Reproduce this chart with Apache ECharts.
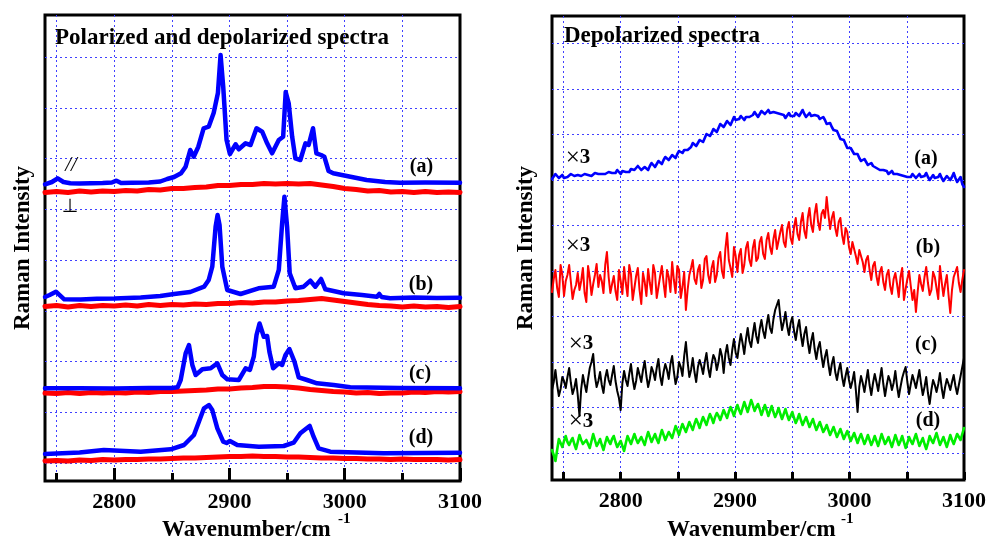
<!DOCTYPE html>
<html><head><meta charset="utf-8">
<script src="https://cdn.jsdelivr.net/npm/echarts@6/dist/echarts.min.js"></script>
<style>html,body{margin:0;padding:0;background:#fff}#c{width:989px;height:541px}</style>
</head><body><div id="c"></div>
<script>
// ---------------- DATA ----------------
// Left panel: polarized (//, blue) spectra, [wavenumber, intensity(offset)]
const polA = [[2740,296.7],[2746,299],[2751,302.7],[2756,299],[2762,297.8],[2770,297.5],[2780,297.8],[2790,298],[2798,298.5],[2802,300.3],[2806,298],[2815,298.3],[2830,298.5],[2840,299.5],[2846,302],[2852,304],[2858,307.7],[2862,314.3],[2866,331],[2869,324.3],[2873,334.3],[2877.6,352.7],[2882,354.3],[2886.3,368],[2890,388],[2892.3,426],[2894.6,394.3],[2897.5,341],[2900.4,327],[2905.3,336.7],[2908.1,331.7],[2914,337.7],[2918.3,336],[2923.5,352.7],[2928.4,349.3],[2932.7,337.7],[2937,327.7],[2942.8,341],[2946.6,344.3],[2948.8,389],[2951.4,377.7],[2954.4,344.3],[2957.2,322.7],[2961.5,321],[2965.9,337.7],[2968.7,336],[2972.5,352.7],[2975.4,327.7],[2979.5,326],[2982.3,324.3],[2986,310],[2990,307.7],[3005,304.3],[3019,301],[3035,299],[3048,298.3],[3070,298.5],[3100,298.3]];
const polB = [[2740,184],[2744,186],[2749.5,189.3],[2756.7,181.7],[2771,181.5],[2785,182.3],[2800,182.5],[2823,183.5],[2840,185],[2852,187],[2866,189],[2878,194.3],[2882,201],[2885.1,214.3],[2888,254.3],[2889.7,266],[2891.4,256],[2893.8,214.3],[2898.1,191],[2909.6,187],[2925.2,192.7],[2938.4,194.3],[2942.8,211],[2945.7,257.7],[2947.7,284.3],[2950,254.3],[2952.3,207.7],[2957.2,192.7],[2964.4,194.3],[2970.2,200.3],[2974.5,194.3],[2979.5,202],[2983.2,191.7],[2999,187.7],[3015,186],[3028,184.3],[3030,187],[3032,184],[3039.4,182.7],[3060,183.5],[3080,183],[3100,183.3]];
const polC = [[2740,92.7],[2770,92.8],[2800,92.5],[2830,93],[2850,93],[2855,93.7],[2857.7,101],[2862,127.7],[2864.9,136],[2867.8,116],[2870.7,106],[2876.5,111.7],[2883.7,112.7],[2889.5,117.7],[2893.8,106],[2898.1,101.7],[2908.1,101],[2914,112.7],[2917.7,111],[2921.1,124.3],[2923.5,146],[2926.1,157.5],[2929.8,144.3],[2932.7,145],[2934.7,129],[2937.9,112.7],[2942.8,117.7],[2945.7,116],[2948.6,126],[2952,132],[2956.4,119.3],[2960.1,103.7],[2967.3,101],[2976,97.7],[2990.4,96],[3004.8,93.7],[3048,93],[3100,92.7]];
const polD = [[2740,27],[2770,28.5],[2791,31],[2823,29.3],[2849,31.7],[2860.6,36],[2869.2,46],[2873.5,59.3],[2877.9,72.7],[2882.2,76],[2885.1,71],[2889.5,52.7],[2894.6,39.3],[2897.5,38],[2900.4,40],[2906.8,36],[2925.5,34.3],[2947.1,35],[2955.7,38.3],[2961.5,47.7],[2965.9,51.7],[2969.6,55],[2973,44.3],[2977.4,32.7],[2987.5,29.3],[3033.6,27.7],[3100,28.3]];
// Left panel: depolarized (perpendicular, red) spectra
const perpWn = [2740,2750,2760,2770,2780,2790,2800,2810,2820,2830,2840,2850,2860,2870,2880,2890,2900,2910,2920,2930,2940,2950,2960,2970,2980,2990,3000,3010,3020,3030,3040,3050,3060,3070,3080,3090,3100];
const perpA = [288.5,289.5,288.5,290,289,290,289.5,290.5,290,291.5,291,292.5,292.5,293.5,294,295.5,295.5,296.5,296.5,297.5,297,297.5,297,297.5,296,294.5,292.5,291.5,290,290.5,289,289.5,288.5,289.5,288.5,289,288.5];
const perpB = [174.5,175.5,174,175.5,174.5,175.5,175,176,175,176.5,175.5,176.5,176,177,176.5,177.5,177.5,178.5,178,179,179,180,180.5,181.5,182.5,181,179.5,178,176.5,175.5,175,174,175,174,174.5,173.5,174.5];
const perpC = [88,87.5,88.5,87.5,88.5,88,88.5,88,89,88.5,89.5,89.5,90,90.5,91,92,92,93,93.5,94.5,94.5,94,93,91.5,90.5,89.5,89,88,88.5,87.5,88,88,89,88.5,89.5,89,89.5];
const perpD = [20,20.5,20,21,20.5,21.5,21,21.5,21.5,22,22,22.5,23,23,23.5,24,24.5,24.5,25,24.5,24.5,24,24,23.5,23,23,22.5,22.5,22,22,21.5,22,21.5,21.5,21.5,21,21.5];
// Right panel: depolarized spectra (x3), sampled on two interleaved wavenumber lists
const depolWn = [2740,2743,2746,2749,2752,2755,2758,2761,2764,2767,2770,2773,2776,2779,2782,2785,2788,2791,2794,2797,2800,2803,2806,2809,2812,2815,2818,2821,2824,2827,2830,2833,2836,2839,2842,2845,2848,2851,2854,2857,2860,2863,2866,2869,2872,2875,2878,2881,2884,2887,2890,2893,2896,2899,2902,2905,2908,2911,2914,2917,2920,2923,2926,2929,2932,2935,2938,2941,2944,2947,2950,2953,2956,2959,2962,2965,2968,2971,2974,2977,2980,2983,2986,2989,2992,2995,2998,3001,3004,3007,3010,3013,3016,3019,3022,3025,3028,3031,3034,3037,3040,3043,3046,3049,3052,3055,3058,3061,3064,3067,3070,3073,3076,3079,3082,3085,3088,3091,3094,3097,3100];
const depolA = [301,306,302,305,300,305,307,302,306,303,308,303,306,308,304,308,305,310,305,310,306,311,306,311,310,314,310,313,310,317,313,319,316,323,320,325,322,329,327,332,329,337,334,340,338,346,344,351,348,356,353,359,355,363,358,364,360,365,362,368,363,369,366,370,365,370,365,368,362,367,362,367,364,370,363,367,362,367,361,363,356,357,350,349,341,340,332,332,326,326,319,321,315,317,312,313,308,312,306,309,304,308,303,306,301,306,302,306,301,307,300,305,300,306,299,304,300,307,298,303,293];
const depolB = [188,210,183,205,199,215,181,195,190,212,178,202,196,216,205,187,228,187,204,180,199,213,184,206,192,212,176,198,211,186,207,193,214,183,203,218,187,210,193,170,205,220,196,215,200,224,197,219,205,228,202,247,212,233,208,231,215,238,214,240,222,243,221,247,226,250,229,255,233,258,236,262,240,267,242,272,248,276,250,270,283,251,268,244,262,236,248,226,240,216,232,208,224,200,218,195,213,190,210,186,207,183,212,191,209,180,168,205,189,213,185,208,192,214,184,205,167,203,213,188,210];
const depolC = [90,110,84,103,92,112,86,101,64,105,88,112,126,93,108,87,110,95,114,89,70,109,94,116,91,112,98,119,93,113,100,121,95,116,101,124,96,118,104,138,103,122,98,120,106,127,103,125,110,131,107,135,115,141,122,146,126,152,133,157,137,160,142,165,147,170,180,150,168,145,163,140,160,134,153,127,147,121,138,113,130,105,123,100,117,94,112,92,108,68,104,88,110,85,106,89,112,84,104,90,109,83,102,113,86,105,92,110,85,103,76,100,88,107,82,101,90,105,86,104,122];
const depolD = [30,19,41,33,44,35,42,31,45,36,40,32,46,34,41,30,43,36,44,33,39,29,44,36,46,37,43,35,48,38,46,37,50,40,48,42,54,45,56,48,58,50,61,52,63,55,66,57,67,60,70,62,73,64,75,66,78,68,80,69,76,65,75,64,74,63,72,61,71,60,68,57,66,55,63,53,61,50,58,48,55,45,53,43,51,41,49,39,47,37,46,36,45,35,44,34,46,36,43,33,45,35,44,32,43,36,46,34,42,31,44,37,47,35,43,33,45,36,46,40,52];
const depolWnMid = [2741.5,2744.5,2747.5,2750.5,2753.5,2756.5,2759.5,2762.5,2765.5,2768.5,2771.5,2774.5,2777.5,2780.5,2783.5,2786.5,2789.5,2792.5,2795.5,2798.5,2801.5,2804.5,2807.5,2810.5,2813.5,2816.5,2819.5,2822.5,2825.5,2828.5,2831.5,2834.5,2837.5,2840.5,2843.5,2846.5,2849.5,2852.5,2855.5,2858.5,2861.5,2864.5,2867.5,2870.5,2873.5,2876.5,2879.5,2882.5,2885.5,2888.5,2891.5,2894.5,2897.5,2900.5,2903.5,2906.5,2909.5,2912.5,2915.5,2918.5,2921.5,2924.5,2927.5,2930.5,2933.5,2936.5,2939.5,2942.5,2945.5,2948.5,2951.5,2954.5,2957.5,2960.5,2963.5,2966.5,2969.5,2972.5,2975.5,2978.5,2981.5,2984.5,2987.5,2990.5,2993.5,2996.5,2999.5,3002.5,3005.5,3008.5,3011.5,3014.5,3017.5,3020.5,3023.5,3026.5,3029.5,3032.5,3035.5,3038.5,3041.5,3044.5,3047.5,3050.5,3053.5,3056.5,3059.5,3062.5,3065.5,3068.5,3071.5,3074.5,3077.5,3080.5,3083.5,3086.5,3089.5,3092.5,3095.5,3098.5];
const depolAMid = [303,304,303,302,303,306,304,305,304,306,305,304,307,306,306,306,308,307,307,308,309,308,308,310,312,312,311,311,314,315,316,317,320,321,322,323,326,327,330,330,333,335,337,339,342,345,347,349,352,354,356,357,359,360,361,362,363,363,365,366,366,367,368,367,368,367,366,365,364,364,364,365,367,366,365,364,365,364,362,360,356,353,349,345,341,336,332,329,326,322,320,318,316,314,312,310,310,309,307,306,306,305,304,303,303,304,304,303,304,303,302,302,303,302,301,302,303,302,300,296];
const depolBMid = [201,192,215,184,205,198,190,207,199,187,214,185,205,193,199,215,203,196,189,210,186,197,215,180,204,190,207,184,197,215,182,204,197,210,188,200,214,182,208,190,212,201,210,192,221,205,212,198,222,209,231,220,203,224,225,207,232,220,232,219,238,226,240,233,241,231,248,238,251,242,253,246,258,249,262,255,266,258,266,262,266,262,252,258,245,252,233,238,224,230,218,220,210,214,204,208,198,205,194,201,196,203,180,201,194,190,188,196,203,197,190,203,181,198,196,185,190,208,197,200];
const depolCMid = [98,95,91,99,103,97,92,85,91,96,101,118,104,99,95,102,100,105,99,82,97,100,106,101,99,105,110,104,101,108,112,104,108,110,116,108,103,113,124,118,110,108,113,114,118,112,116,121,118,124,126,122,130,127,135,137,141,139,146,144,151,149,155,152,161,172,163,158,154,157,149,152,145,146,138,139,131,132,124,123,116,116,108,110,103,104,100,99,90,93,97,99,95,97,98,101,96,95,99,97,94,93,108,98,96,99,101,96,93,87,90,95,96,92,93,96,98,94,95,113];
const depolDMid = [25,30,37,39,38,39,36,38,40,38,36,39,40,37,35,37,39,41,38,36,34,37,40,41,41,40,39,42,43,42,41,44,45,44,45,48,50,51,52,53,54,56,57,58,59,61,62,63,64,65,66,68,69,70,70,72,73,74,75,73,71,70,70,69,68,67,66,66,65,64,62,61,60,59,58,57,55,54,53,51,50,49,48,47,46,45,44,43,42,42,41,40,40,39,39,40,41,39,38,39,40,39,38,37,39,41,40,38,36,37,40,42,41,39,38,39,40,41,43,46];
// Axis range / tick values
const xMin = 2740, xMax = 3100, gridStep = 50, labelStep = 100, firstGrid = 2750, firstLabel = 2800;

// ---------------- LAYOUT ----------------
const W = 989, H = 541;
const SERIF = '"Liberation Serif","Times New Roman",serif';
const GRIDC = '#4040ff';
const dotted = {color: GRIDC, width: 1, type: [2, 3]};

function panelGrids(L, R, T, B, hTop, hBot) {
  const width = W - L - R;
  const px = v => L + (v - xMin) / (xMax - xMin) * width;
  return [
    {left: L, right: R, top: T, bottom: B, show: true, borderColor: '#000', borderWidth: 3, backgroundColor: 'rgba(0,0,0,0)'},
    {left: px(firstGrid), right: R, top: T, bottom: B},
    {left: px(firstLabel), right: R, top: T, bottom: B},
    {left: L, right: R, top: hTop, bottom: H - hBot}
  ];
}
const grids = panelGrids(45, W - 460, 15, H - 481, 57.3, 462.9)
  .concat(panelGrids(552, W - 964, 16, H - 480, 43.3, 452.8));

function xAxesFor(g0, majorLen, minorLen) {
  return [
    {gridIndex: g0, type: 'value', min: xMin, max: xMax, show: false},
    {gridIndex: g0 + 1, type: 'value', min: firstGrid, max: xMax, interval: gridStep,
      axisLine: {show: false}, axisLabel: {show: false},
      axisTick: {show: true, inside: true, length: minorLen, lineStyle: {color: '#000', width: 3}},
      splitLine: {show: true, showMinLine: true, showMaxLine: false, lineStyle: dotted}},
    {gridIndex: g0 + 2, type: 'value', min: firstLabel, max: xMax, interval: labelStep,
      axisLine: {show: false}, splitLine: {show: false},
      axisTick: {show: true, inside: true, length: majorLen, lineStyle: {color: '#000', width: 3}},
      axisLabel: {show: true, margin: 21, verticalAlign: 'middle', fontFamily: SERIF, fontWeight: 'bold', fontSize: 22, color: '#000',
        showMinLabel: true, showMaxLabel: true, formatter: v => String(v)}},
    {gridIndex: g0 + 3, type: 'value', min: 0, max: 1, show: false}
  ];
}
function yAxesFor(g0, yMax, nLines) {
  return [
    {gridIndex: g0, type: 'value', min: 0, max: yMax, show: false},
    {gridIndex: g0 + 1, type: 'value', min: 0, max: 1, show: false},
    {gridIndex: g0 + 2, type: 'value', min: 0, max: 1, show: false},
    {gridIndex: g0 + 3, type: 'value', min: 0, max: nLines, interval: 1,
      axisLine: {show: false}, axisTick: {show: false}, axisLabel: {show: false},
      splitLine: {show: true, showMinLine: true, showMaxLine: true, lineStyle: dotted}}
  ];
}

function line(ax, data, color, width) {
  return {type: 'line', xAxisIndex: ax, yAxisIndex: ax, data: data, symbol: 'none', showSymbol: false,
    silent: true, animation: false, z: 3,
    lineStyle: {color: color, width: width, cap: 'round', join: 'round'}, itemStyle: {color: color}};
}
const zip = (xs, ys) => xs.map((x, i) => [x, ys[i]]);
const merge = (a, b) => a.concat(b).sort((p, q) => p[0] - q[0]);

const series = [
  line(0, zip(perpWn, perpA), '#ff0000', 5),
  line(0, zip(perpWn, perpB), '#ff0000', 5),
  line(0, zip(perpWn, perpC), '#ff0000', 5),
  line(0, zip(perpWn, perpD), '#ff0000', 5),
  line(0, polA, '#0000ff', 4.5),
  line(0, polB, '#0000ff', 4.5),
  line(0, polC, '#0000ff', 4.5),
  line(0, polD, '#0000ff', 4.5),
  line(4, merge(zip(depolWn, depolA), zip(depolWnMid, depolAMid)), '#0000ff', 2.6),
  line(4, merge(zip(depolWn, depolB), zip(depolWnMid, depolBMid)), '#ff0000', 2),
  line(4, merge(zip(depolWn, depolC), zip(depolWnMid, depolCMid)), '#000000', 2),
  line(4, merge(zip(depolWn, depolD), zip(depolWnMid, depolDMid)), '#00ee00', 2.6)
];

function txt(x, y, text, font, extra) {
  return Object.assign({type: 'text', x: x, y: y, z: 100, silent: true,
    style: {text: text, font: font, fill: '#000', align: 'center', verticalAlign: 'middle'}}, extra || {});
}
const B23 = 'bold 23px ' + SERIF, B20 = 'bold 20px ' + SERIF;
function times3(x, y) {
  return {type: 'text', x: x, y: y, z: 100, silent: true,
    style: {text: '{n|×}{b|3}', align: 'center', verticalAlign: 'middle', fill: '#000',
      rich: {n: {font: '25px ' + SERIF, fill: '#000'}, b: {font: 'bold 21px ' + SERIF, fill: '#000'}}}};
}
const graphics = [
  {type: 'text', x: 55, y: 38, z: 100, style: {text: 'Polarized and depolarized spectra', font: B23, fill: '#000', align: 'left', verticalAlign: 'middle'}},
  {type: 'text', x: 564, y: 36, z: 100, style: {text: 'Depolarized spectra', font: B23, fill: '#000', align: 'left', verticalAlign: 'middle'}},
  txt(421.5, 167, '(a)', B20), txt(421, 285, '(b)', B20), txt(420, 374, '(c)', B20), txt(421, 438, '(d)', B20),
  txt(926, 159, '(a)', B20), txt(928, 247.5, '(b)', B20), txt(926, 345, '(c)', B20), txt(928, 420.5, '(d)', B20),
  times3(578, 158), times3(578, 246), times3(581, 344), times3(581, 421.5),
  txt(71, 165, '//', 'italic 21px ' + SERIF),
  txt(70, 207, '⊥', '19px "DejaVu Sans"'),
  txt(23, 248, 'Raman Intensity', B23, {rotation: Math.PI / 2}),
  txt(526.5, 248, 'Raman Intensity', B23, {rotation: Math.PI / 2}),
  {type: 'text', x: 162, y: 530, z: 100, style: {text: 'Wavenumber/cm', font: B23, fill: '#000', align: 'left', verticalAlign: 'middle'}},
  {type: 'text', x: 338, y: 519, z: 100, style: {text: '-1', font: 'bold 15px ' + SERIF, fill: '#000', align: 'left', verticalAlign: 'middle'}},
  {type: 'text', x: 667, y: 530, z: 100, style: {text: 'Wavenumber/cm', font: B23, fill: '#000', align: 'left', verticalAlign: 'middle'}},
  {type: 'text', x: 841, y: 519, z: 100, style: {text: '-1', font: 'bold 15px ' + SERIF, fill: '#000', align: 'left', verticalAlign: 'middle'}}
];

const chart = echarts.init(document.getElementById('c'), null, {renderer: 'canvas', width: W, height: H});
chart.setOption({
  animation: false,
  backgroundColor: '#fff',
  grid: grids,
  xAxis: xAxesFor(0, 13, 8).concat(xAxesFor(4, 8, 8)),
  yAxis: yAxesFor(0, 466, 8).concat(yAxesFor(4, 464, 9)),
  series: series,
  graphic: graphics
});
</script></body></html>
